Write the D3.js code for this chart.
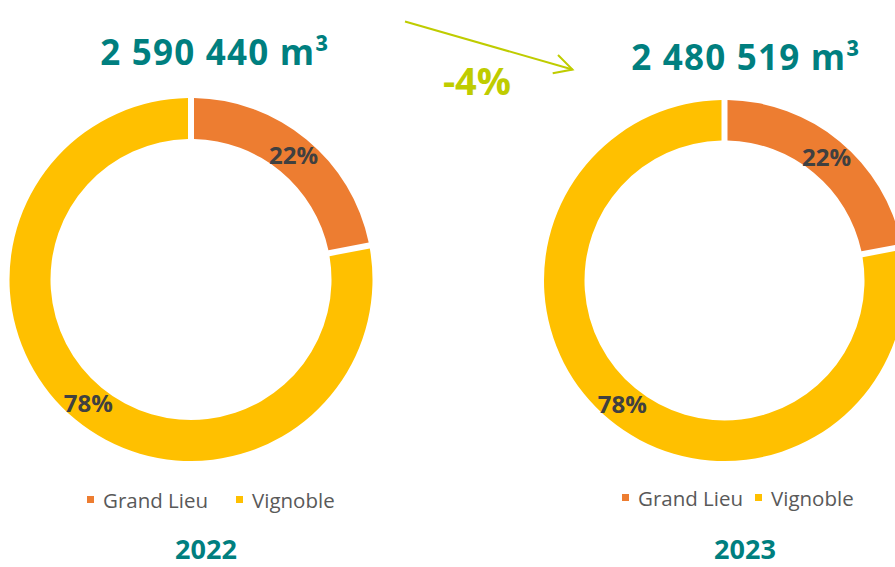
<!DOCTYPE html>
<html>
<head>
<meta charset="utf-8">
<script src="https://cdn.jsdelivr.net/npm/d3@7"></script>
<style>
  html, body { margin: 0; padding: 0; background: #ffffff; overflow: hidden; }
  svg { display: block; font-family: "Open Sans", sans-serif; }
</style>
</head>
<body>
<svg id="chart" width="895" height="567"></svg>
<script>
// ---- data ----
const categories = ["Grand Lieu", "Vignoble"];
const years = ["2022", "2023"];
const totals = ["2 590 440 m³", "2 480 519 m³"];
const values2022 = [22, 78];
const values2023 = [22, 78];
const changeLabel = "-4%";
const colors = ["#ED7D31", "#FFC000"];

const svg = d3.select("#chart");
const teal = "#007F7F";
const labelColor = "#404040";

const panels = [
  { values: values2022, year: years[0], total: totals[0], cx: 191, cy: 279.5, ro: 181.5, ri: 140.5,
    titleX: 215, titleY: 65, yearX: 206, yearY: 559, legendX: 87, legendY: 500, legendGap: 149 },
  { values: values2023, year: years[1], total: totals[1], cx: 724.5, cy: 280.5, ro: 180.5, ri: 140,
    titleX: 746, titleY: 70, yearX: 745, yearY: 559, legendX: 622, legendY: 498, legendGap: 133 }
];

const pie = d3.pie().sort(null).value(d => d).startAngle(0).endAngle(2 * Math.PI);

panels.forEach(p => {
  const g = svg.append("g").attr("transform", `translate(${p.cx},${p.cy})`);
  const arc = d3.arc().innerRadius(p.ri).outerRadius(p.ro)
    .padAngle(6 / p.ro).padRadius(p.ro);
  const arcs = pie(p.values);
  g.selectAll("path").data(arcs).join("path")
    .attr("d", arc)
    .attr("fill", (d, i) => colors[i]);
  const labelArc = d3.arc().innerRadius(p.ri).outerRadius(p.ro);
  g.selectAll("text.pct").data(arcs).join("text")
    .attr("class", "pct")
    .attr("transform", d => `translate(${labelArc.centroid(d)})`)
    .attr("text-anchor", "middle")
    .attr("dy", "0.36em")
    .attr("font-size", 24)
    .attr("font-weight", 700)
    .attr("fill", labelColor)
    .text(d => d.data + "%");

  // total title
  svg.append("text")
    .attr("x", p.titleX).attr("y", p.titleY)
    .attr("text-anchor", "middle")
    .attr("font-size", 35).attr("font-weight", 700)
    .attr("fill", teal)
    .attr("letter-spacing", 1.2)
    .text(p.total);

  // legend
  const lg = svg.append("g").attr("transform", `translate(${p.legendX},${p.legendY})`);
  categories.forEach((c, i) => {
    const x = i * p.legendGap;
    lg.append("rect").attr("x", x).attr("y", -4).attr("width", 7).attr("height", 7)
      .attr("fill", colors[i]);
    lg.append("text").attr("x", x + 16).attr("y", 7.5)
      .attr("font-size", 20.5).attr("fill", "#595959")
      .text(c);
  });

  // year
  svg.append("text")
    .attr("x", p.yearX).attr("y", p.yearY)
    .attr("text-anchor", "middle")
    .attr("font-size", 27).attr("font-weight", 700)
    .attr("fill", teal)
    .text(p.year);
});

// change arrow
const green = "#BFCC00";
svg.append("line")
  .attr("x1", 405).attr("y1", 21.5).attr("x2", 572.5).attr("y2", 69.5)
  .attr("stroke", green).attr("stroke-width", 2);
svg.append("polyline")
  .attr("points", "558,55 572.5,69.5 552.7,73.3")
  .attr("fill", "none").attr("stroke", green).attr("stroke-width", 2);
svg.append("text")
  .attr("x", 477).attr("y", 95)
  .attr("text-anchor", "middle")
  .attr("font-size", 38).attr("font-weight", 700)
  .attr("fill", green)
  .text(changeLabel);
</script>
</body>
</html>
